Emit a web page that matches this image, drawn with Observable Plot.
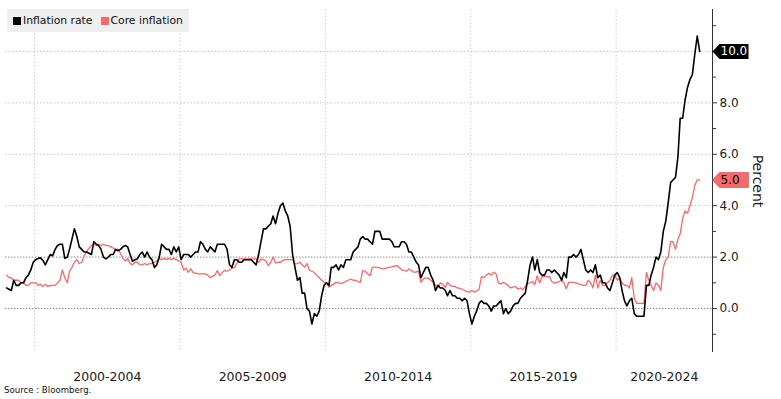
<!DOCTYPE html>
<html>
<head>
<meta charset="utf-8">
<script src="https://cdn.jsdelivr.net/npm/d3@7"></script>
<script src="https://cdn.jsdelivr.net/npm/@observablehq/plot@0.6"></script>
<style>
  html, body { margin: 0; padding: 0; background: #ffffff; }
  #wrap { position: relative; width: 781px; height: 399px; font-family: "DejaVu Sans", sans-serif; color: #111; }
  #wrap svg { position: absolute; left: 0; top: 0; }
  #legend { position: absolute; left: 7px; top: 9px; width: 182px; height: 23px; background: #efefef;
            display: flex; align-items: center; font-size: 10.8px; white-space: nowrap; }
  #legend .item { display: flex; align-items: center; }
  #legend .sw { display: inline-block; width: 8px; height: 8px; margin-right: 2px; }
  #caption { position: absolute; left: 4px; top: 385px; font-size: 8.6px; color: #111; }
</style>
</head>
<body>
<div id="wrap"></div>
<script>
// ---------------- data ----------------
const seriesNames = ["Inflation rate", "Core inflation"];
const firstYear = 1999; // monthly values from January 1999

const inflationRate = [
  0.8,0.75,0.7,1.1,0.9,0.9,1.0,1.0,1.2,1.3,1.5,1.8,
  1.9,1.95,1.97,1.87,1.7,1.9,2.1,2.05,2.3,2.45,2.5,2.5,
  1.95,2.0,2.3,2.7,3.1,2.8,2.4,2.3,2.2,2.2,2.15,2.1,
  2.6,2.5,2.45,2.3,2.0,1.93,2.0,2.1,2.1,2.3,2.25,2.3,
  2.4,2.45,2.4,2.1,1.84,1.9,1.93,2.1,2.2,2.0,2.2,2.0,
  1.9,1.6,1.7,2.0,2.5,2.4,2.3,2.3,2.1,2.4,2.2,2.4,
  1.9,2.1,2.1,2.1,2.0,2.1,2.2,2.2,2.6,2.5,2.3,2.2,
  2.4,2.3,2.2,2.5,2.5,2.5,2.5,2.3,1.7,1.6,1.9,1.9,
  1.8,1.8,1.9,1.9,1.9,1.9,1.8,1.7,2.1,2.6,3.1,3.1,
  3.2,3.3,3.6,3.3,3.7,4.0,4.1,3.8,3.6,3.2,2.1,1.6,
  1.1,1.2,0.6,0.6,0.0,-0.1,-0.6,-0.2,-0.3,-0.1,0.5,0.9,
  1.0,0.9,1.6,1.6,1.7,1.5,1.7,1.6,1.9,1.9,1.9,2.2,
  2.3,2.4,2.7,2.8,2.7,2.7,2.6,2.5,3.0,3.0,3.0,2.7,
  2.7,2.7,2.7,2.6,2.4,2.4,2.4,2.6,2.6,2.5,2.2,2.2,
  2.0,1.8,1.7,1.2,1.4,1.6,1.6,1.3,1.1,0.7,0.9,0.8,
  0.8,0.7,0.5,0.7,0.5,0.5,0.4,0.4,0.3,0.4,0.3,-0.2,
  -0.6,-0.3,-0.1,0.2,0.3,0.2,0.2,0.1,-0.1,0.1,0.1,0.2,
  0.3,-0.2,0.0,-0.2,-0.1,0.1,0.2,0.2,0.4,0.5,0.6,1.1,
  1.7,2.0,1.5,1.9,1.4,1.3,1.3,1.5,1.5,1.4,1.5,1.4,
  1.3,1.1,1.4,1.2,2.0,2.0,2.1,2.0,2.1,2.3,1.9,1.5,
  1.4,1.5,1.4,1.7,1.2,1.3,1.0,1.0,0.8,0.7,1.0,1.3,
  1.4,1.2,0.7,0.3,0.1,0.3,0.4,-0.2,-0.3,-0.3,-0.3,-0.3,
  0.9,0.9,1.3,1.6,2.0,1.9,2.2,3.0,3.4,4.1,4.9,5.0,
  5.1,5.9,7.4,7.4,8.1,8.6,8.9,9.1,9.9,10.6,10.0
];

const coreInflation = [
  1.3,1.2,1.2,1.1,1.1,1.1,1.0,1.0,0.9,0.9,1.0,1.0,
  1.0,0.9,0.95,0.85,0.95,0.85,0.9,0.9,0.9,1.0,1.1,1.5,
  1.2,1.0,1.45,1.6,1.8,1.9,1.75,1.8,2.05,2.2,2.35,2.45,
  2.5,2.45,2.5,2.45,2.5,2.45,2.45,2.4,2.35,2.3,2.3,2.15,
  1.95,1.85,1.95,1.75,1.7,1.8,1.8,1.7,1.7,1.75,1.7,1.75,
  1.75,1.8,1.85,1.95,1.9,1.95,1.9,1.95,1.9,1.95,1.9,1.85,
  1.8,1.5,1.57,1.41,1.54,1.4,1.38,1.35,1.35,1.35,1.35,1.3,
  1.2,1.25,1.3,1.48,1.28,1.4,1.48,1.45,1.5,1.57,1.6,1.75,
  1.93,1.93,1.93,1.93,1.93,1.93,1.93,1.93,1.8,1.93,1.9,1.85,
  1.67,1.8,2.0,1.77,1.8,1.8,1.87,1.9,1.9,1.9,1.9,1.74,
  1.75,1.8,1.7,1.61,1.75,1.48,1.45,1.4,1.28,1.2,1.1,1.02,
  1.0,0.83,0.9,0.95,1.02,1.0,0.98,1.0,1.06,1.1,1.15,1.1,
  1.1,1.05,1.02,1.48,1.45,1.35,1.28,1.61,1.61,1.6,1.58,1.54,
  1.55,1.58,1.61,1.62,1.65,1.67,1.6,1.5,1.48,1.45,1.54,1.48,
  1.41,1.43,1.45,1.02,1.15,1.18,1.19,1.1,1.02,0.92,0.82,1.0,
  0.95,0.82,1.02,0.9,0.86,0.86,0.8,0.78,0.75,0.7,0.66,0.64,
  0.7,0.64,0.68,0.75,1.24,1.2,1.3,1.37,1.3,1.41,1.35,0.99,
  0.96,1.02,0.96,0.9,0.8,0.83,0.86,0.75,0.8,0.73,0.85,0.99,
  1.0,1.05,0.93,1.28,0.99,1.24,1.24,1.24,1.24,1.05,0.99,1.02,
  1.05,1.09,1.0,0.77,1.02,1.02,1.02,1.0,0.96,0.93,0.9,0.9,
  1.1,1.0,0.8,1.3,0.8,1.1,0.9,0.9,1.0,1.1,1.3,1.3,
  1.1,1.2,1.0,0.9,0.9,0.8,1.2,0.4,0.2,0.2,0.2,0.2,
  1.4,1.1,0.9,0.7,1.0,0.9,0.7,1.6,1.9,2.0,2.6,2.6,
  2.3,2.7,2.9,3.5,3.8,3.7,4.0,4.3,4.8,5.0,5.0
];

const periodStartYears = [2000, 2005, 2010, 2015, 2020];
const periodLabels = ["2000-2004", "2005-2009", "2010-2014", "2015-2019", "2020-2024"];
const majorTicks = [0, 2, 4, 6, 8, 10];
const minorTicks = [-1, 1, 3, 5, 7, 9, 11];
const darkGridValues = [0, 2];
const lightGridValues = [4, 6, 8, 10];
const axisTitle = "Percent";
const sourceText = "Source : Bloomberg.";

// ---------------- styles / scales ----------------
const rateColor = "#000000";
const coreColor = "#f46a6a";
const xDomain = [new Date(Date.UTC(1999, 0, 1)), new Date(Date.UTC(2023, 3, 25))];
const yDomain = [-1.71, 11.63];

const rows = inflationRate.map((v, i) => ({
  date: new Date(Date.UTC(firstYear, i, 15)),
  rate: v,
  core: coreInflation[i]
}));

const periodRows = periodStartYears.map((y, i) => {
  const start = new Date(Date.UTC(y, 0, 1));
  const endCandidate = new Date(Date.UTC(y + 5, 0, 1));
  const end = endCandidate > xDomain[1] ? xDomain[1] : endCandidate;
  return { start, mid: new Date((+start + +end) / 2), label: periodLabels[i] };
});

const tagShape = {
  draw(ctx) {
    ctx.moveTo(0, 0);
    ctx.lineTo(7, -7.5);
    ctx.lineTo(36, -7.5);
    ctx.lineTo(36, 7.5);
    ctx.lineTo(7, 7.5);
    ctx.closePath();
  }
};
const rateTag = [{ value: inflationRate[inflationRate.length - 1] }];
const coreTag = [{ value: coreInflation[coreInflation.length - 1] }];
const atAxis = () => xDomain[1];

const chart = Plot.plot({
  width: 781,
  height: 399,
  marginLeft: 5,
  marginRight: 69,
  marginTop: 9,
  marginBottom: 47,
  x: { type: "utc", domain: xDomain, axis: null },
  y: { domain: yDomain, axis: null },
  style: { fontFamily: "DejaVu Sans, sans-serif", fontSize: "12px", color: "#1a1a1a", background: "transparent", overflow: "visible" },
  marks: [
    Plot.ruleX(periodRows, { x: "start", stroke: "#cfcfcf", strokeDasharray: "1.5,2" }),
    Plot.ruleY(lightGridValues, { stroke: "#c4c4c4", strokeDasharray: "1.5,2" }),
    Plot.ruleY(darkGridValues, { stroke: "#8c8c8c", strokeDasharray: "1.5,1.5" }),
    Plot.line(rows, { x: "date", y: "core", stroke: coreColor, strokeWidth: 1.3 }),
    Plot.line(rows, { x: "date", y: "rate", stroke: rateColor, strokeWidth: 1.6 }),
    Plot.ruleX([xDomain[1]], { stroke: "#333" }),
    Plot.axisY(minorTicks, { anchor: "right", tickSize: 3, tickFormat: () => "", label: null, stroke: "#333" }),
    Plot.axisY(majorTicks, { anchor: "right", tickSize: 4, tickPadding: 3, tickFormat: d => d.toFixed(1), label: null, fontSize: 12, stroke: "#333", fill: "#1a1a1a" }),
    Plot.text(periodRows, { x: "mid", text: "label", frameAnchor: "bottom", dy: 28, fontSize: 12.5, fill: "#1a1a1a" }),
    Plot.text([axisTitle], { text: d => d, frameAnchor: "right", textAnchor: "middle", lineAnchor: "middle", rotate: 90, dx: 45, fontSize: 14, fill: "#1a1a1a" }),
    Plot.dot(rateTag, { x: atAxis, y: "value", symbol: tagShape, fill: rateColor, stroke: "none" }),
    Plot.dot(coreTag, { x: atAxis, y: "value", symbol: tagShape, fill: coreColor, stroke: "#d04848", strokeWidth: 0.6 }),
    Plot.text(rateTag, { x: atAxis, y: "value", text: d => d.value.toFixed(1), textAnchor: "start", dx: 8, fill: "#ffffff", fontSize: 12 }),
    Plot.text(coreTag, { x: atAxis, y: "value", text: d => d.value.toFixed(1), textAnchor: "start", dx: 8, fill: "#000000", fontSize: 12 })
  ]
});

const wrap = document.getElementById("wrap");
wrap.appendChild(chart);

const legend = document.createElement("div");
legend.id = "legend";
const colors = [rateColor, coreColor];
seriesNames.forEach((name, i) => {
  const item = document.createElement("span");
  item.className = "item";
  item.style.marginLeft = i === 0 ? "6px" : "8px";
  const sw = document.createElement("span");
  sw.className = "sw";
  sw.style.background = colors[i];
  item.appendChild(sw);
  item.appendChild(document.createTextNode(name));
  legend.appendChild(item);
});
wrap.appendChild(legend);

const caption = document.createElement("div");
caption.id = "caption";
caption.textContent = sourceText;
wrap.appendChild(caption);
</script>
</body>
</html>
